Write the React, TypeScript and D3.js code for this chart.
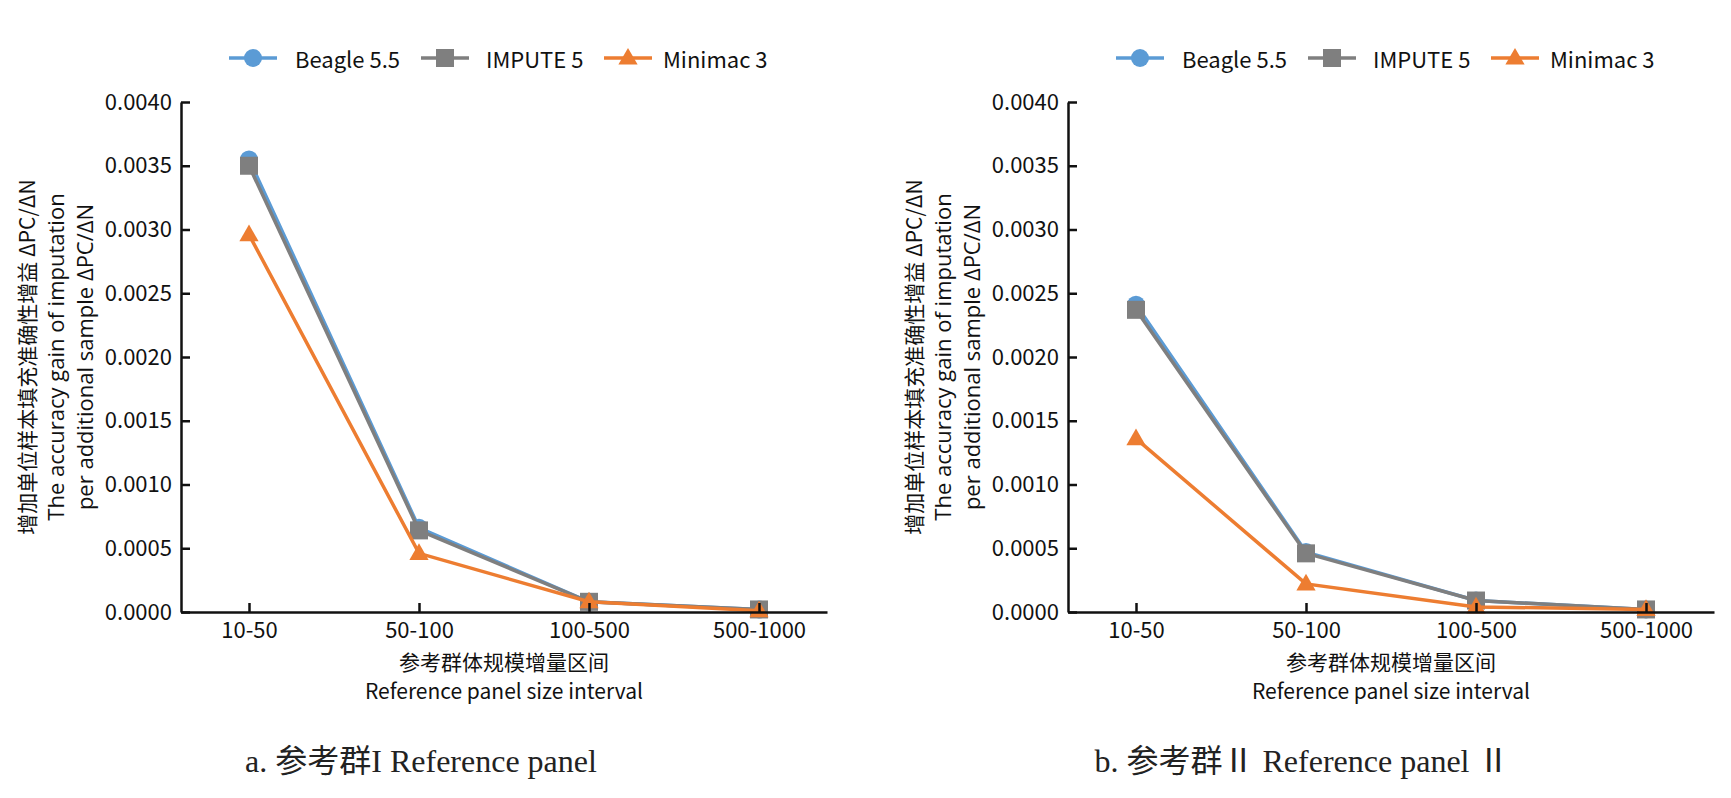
import { axisBottom, axisLeft, line, scaleLinear, scalePoint, select, symbol, symbolTriangle } from "d3";
import { useEffect, useRef } from "react";

const intervals = ["10-50", "50-100", "100-500", "500-1000"];
const yTicks = [0, 0.0005, 0.001, 0.0015, 0.002, 0.0025, 0.003, 0.0035, 0.004];

const seriesNames = ["Beagle 5.5", "IMPUTE 5", "Minimac 3"];
const seriesColors = ["#5b9bd5", "#7f7f7f", "#ed7d31"];
const seriesShapes = ["circle", "square", "triangle"];

// panel I
const beagleA = [0.00355, 0.00066, 0.00008, 0.00002];
const imputeA = [0.0035, 0.00064, 0.00008, 0.00002];
const minimacA = [0.00296, 0.00046, 0.00008, 0.00001];

// panel II
const beagleB = [0.00241, 0.00047, 0.00009, 0.00002];
const imputeB = [0.00237, 0.00046, 0.00009, 0.00002];
const minimacB = [0.00136, 0.00022, 0.00004, 0.00002];

const yTitle = [
  "增加单位样本填充准确性增益 ΔPC/ΔN",
  "The accuracy gain of imputation",
  "per additional sample ΔPC/ΔN",
];
const xTitle = ["参考群体规模增量区间", "Reference panel size interval"];

const sans = "'Noto Sans CJK SC', 'Noto Sans', sans-serif";
const serif = "'Liberation Serif', 'Noto Sans CJK SC', serif";

const top = 102;
const bottom = 612;
const plotW = 646;

type MarkerProps = { shape: string; x: number; y: number; color: string };

const Marker = ({ shape, x, y, color }: MarkerProps) => {
  if (shape === "circle") return <circle cx={x} cy={y} r={9} fill={color} />;
  if (shape === "square")
    return <rect x={x - 9} y={y - 9} width={18} height={18} fill={color} />;
  return (
    <path
      d={symbol(symbolTriangle, 160)() ?? ""}
      transform={`translate(${x},${y + 1})`}
      fill={color}
    />
  );
};

type PanelProps = { left: number; data: number[][]; caption: string; captionX: number };

const Panel = ({ left, data, caption, captionX }: PanelProps) => {
  const xRef = useRef<SVGGElement>(null);
  const yRef = useRef<SVGGElement>(null);

  const x = scalePoint<string>().domain(intervals).range([left, left + plotW]).padding(0.4);
  const y = scaleLinear().domain([0, 0.004]).range([bottom, top]);

  useEffect(() => {
    if (xRef.current) {
      const g = select(xRef.current);
      g.call(axisBottom(x).tickSizeInner(-9).tickSizeOuter(0).tickPadding(10));
      g.selectAll("path,line").attr("stroke", "#111").attr("stroke-width", 2.5);
      g.selectAll("text").style("font-size", "22px").style("font-family", sans).attr("fill", "#111");
    }
    if (yRef.current) {
      const g = select(yRef.current);
      g.call(
        axisLeft(y).tickValues(yTicks).tickFormat((d) => Number(d).toFixed(4))
          .tickSizeInner(-9).tickSizeOuter(0).tickPadding(9)
      );
      g.selectAll("path,line").attr("stroke", "#111").attr("stroke-width", 2.5);
      g.selectAll("text").style("font-size", "22px").style("font-family", sans).attr("fill", "#111");
    }
  }, [left]);

  const path = line<number>()
    .x((_, i) => x(intervals[i]) ?? 0)
    .y((d) => y(d));

  const midX = left + plotW / 2;
  const midY = (top + bottom) / 2;
  const yCols = [-155, -126, -97];
  const legendOffsets = [48, 240, 423];
  const legendTextOffsets = [114, 305, 482];

  return (
    <g>
      {/* legend */}
      {seriesNames.map((name, i) => (
        <g key={name}>
          <line
            x1={left + legendOffsets[i]}
            x2={left + legendOffsets[i] + 48}
            y1={58}
            y2={58}
            stroke={seriesColors[i]}
            strokeWidth={3.5}
          />
          <Marker shape={seriesShapes[i]} x={left + legendOffsets[i] + 24} y={58} color={seriesColors[i]} />
          <text
            x={left + legendTextOffsets[i]}
            y={58}
            dominantBaseline="central"
            fontFamily={sans}
            fontSize={22}
            fill="#111"
          >
            {name}
          </text>
        </g>
      ))}

      {data.map((vals, s) => (
        <g key={s}>
          <path d={path(vals) ?? ""} fill="none" stroke={seriesColors[s]} strokeWidth={3.5} />
          {vals.map((v, i) => (
            <Marker key={i} shape={seriesShapes[s]} x={x(intervals[i]) ?? 0} y={y(v)} color={seriesColors[s]} />
          ))}
        </g>
      ))}

      <g ref={xRef} transform={`translate(0,${bottom})`} />
      <g ref={yRef} transform={`translate(${left},0)`} />

      {yTitle.map((t, i) => (
        <text
          key={t}
          transform={`translate(${left + yCols[i]},${midY}) rotate(-90)`}
          textAnchor="middle"
          dominantBaseline="central"
          fontFamily={i === 0 ? sans : "'Open Sans', 'Noto Sans CJK SC', sans-serif"}
          fontSize={i === 0 ? 21 : 22}
          fill="#111"
        >
          {t}
        </text>
      ))}

      {xTitle.map((t, i) => (
        <text
          key={t}
          x={midX}
          y={661 + i * 29}
          textAnchor="middle"
          dominantBaseline="central"
          fontFamily={sans}
          fontSize={21}
          fill="#111"
        >
          {t}
        </text>
      ))}

      <text x={captionX} y={772} textAnchor="middle" fontFamily={serif} fontSize={32} fill="#222">
        {caption}
      </text>
    </g>
  );
};

const App = () => {
  return (
    <svg
      width={1731}
      height={798}
      style={{ position: "absolute", left: 0, top: 0, background: "#fff" }}
    >
      <rect width={1731} height={798} fill="#fff" />
      <Panel left={181} data={[beagleA, imputeA, minimacA]} caption="a. 参考群I Reference panel" captionX={421} />
      <Panel left={1068} data={[beagleB, imputeB, minimacB]} caption="b. 参考群Ⅱ Reference panel Ⅱ" captionX={1302} />
    </svg>
  );
};

export default App;
